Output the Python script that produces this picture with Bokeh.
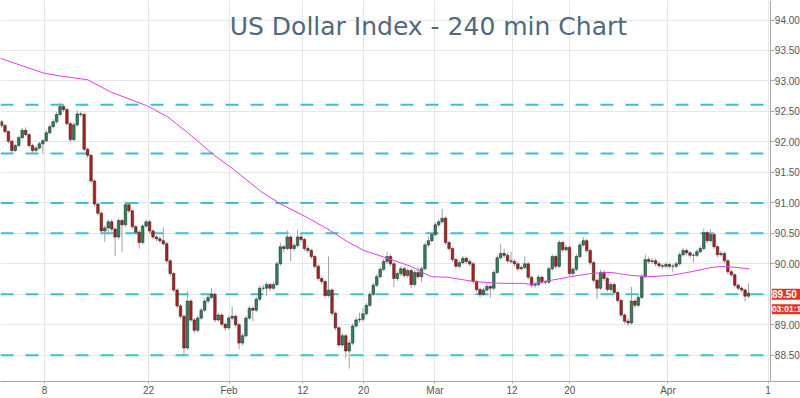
from bokeh.plotting import figure
from bokeh.models import (Label, FixedTicker, Range1d, ColumnDataSource,
                          NumeralTickFormatter, LinearAxis)
from bokeh.embed import file_html
from bokeh.resources import INLINE

# ---- data (240-min bars) ----
first_open = 92.33
closes = [
    92.27, 92.17, 92.01, 91.86, 91.94, 92.07, 92.19, 92.12, 91.94, 91.86,
    91.90, 91.97, 92.02, 92.15, 92.25, 92.33, 92.45, 92.58, 92.53, 92.30,
    92.04, 92.28, 92.46, 92.45, 91.88, 91.78, 91.36, 90.98, 90.83, 90.54,
    90.59, 90.69, 90.57, 90.44, 90.71, 90.64, 90.97, 90.87, 90.61, 90.52,
    90.35, 90.62, 90.69, 90.54, 90.44, 90.41, 90.38, 90.33, 90.05, 89.84,
    89.57, 89.31, 89.14, 88.62, 89.39, 89.08, 88.91, 89.11, 89.24, 89.39,
    89.45, 89.50, 89.08, 89.16, 89.01, 88.95, 89.11, 89.14, 89.00, 88.70,
    88.82, 89.11, 89.27, 89.24, 89.42, 89.60, 89.60, 89.66, 89.60, 89.66,
    90.00, 90.28, 90.25, 90.44, 90.25, 90.30, 90.44, 90.40, 90.25, 90.22,
    90.12, 89.96, 89.76, 89.71, 89.48, 89.57, 89.19, 88.95, 88.67, 88.82,
    88.57, 88.70, 88.98, 89.08, 89.09, 89.18, 89.32, 89.50, 89.65, 89.79,
    89.91, 90.04, 90.12, 90.00, 89.76, 89.84, 89.92, 89.81, 89.89, 89.66,
    89.86, 89.79, 89.92, 90.31, 90.38, 90.48, 90.64, 90.69, 90.75, 90.35,
    90.25, 90.07, 89.96, 90.02, 90.09, 90.04, 90.00, 89.71, 89.58, 89.50,
    89.57, 89.63, 89.60, 89.86, 90.10, 90.17, 90.14, 90.05, 90.04, 90.00,
    89.92, 89.94, 90.00, 89.78, 89.65, 89.66, 89.78, 89.71, 89.70, 89.92,
    90.12, 89.96, 90.35, 90.23, 90.27, 89.84, 89.91, 90.12, 90.31, 90.38,
    90.22, 90.02, 89.73, 89.60, 89.86, 89.76, 89.58, 89.66, 89.53, 89.40,
    89.16, 89.06, 89.03, 89.39, 89.32, 89.45, 89.79, 90.07, 90.04, 90.05,
    90.00, 89.97, 89.96, 89.99, 89.96, 89.96, 90.00, 90.15, 90.22, 90.18,
    90.14, 90.14, 90.20, 90.25, 90.51, 90.38, 90.48, 90.28, 90.15, 90.17,
    90.05, 89.87, 89.82, 89.65, 89.60, 89.57, 89.47, 89.52,
]
highs = [
    92.36, 92.30, 92.19, 92.03, 91.97, 92.10, 92.23, 92.24, 92.14, 91.97,
    91.93, 92.00, 92.05, 92.19, 92.29, 92.37, 92.49, 92.64, 92.62, 92.56,
    92.33, 92.32, 92.52, 92.50, 92.48, 91.91, 91.80, 91.39, 91.01, 90.86,
    90.63, 90.73, 90.73, 90.60, 90.75, 90.74, 91.02, 91.00, 90.89, 90.64,
    90.55, 90.66, 90.73, 90.72, 90.57, 90.47, 90.45, 90.60, 90.36, 90.08,
    89.87, 89.60, 89.34, 89.17, 89.55, 89.42, 89.11, 89.15, 89.28, 89.43,
    89.49, 89.60, 89.53, 89.20, 89.19, 89.04, 89.15, 89.30, 89.17, 89.03,
    88.86, 89.15, 89.31, 89.30, 89.46, 89.64, 89.66, 89.70, 89.69, 89.70,
    90.04, 90.35, 90.31, 90.55, 90.47, 90.34, 90.56, 90.49, 90.43, 90.30,
    90.25, 90.15, 89.99, 89.80, 89.74, 90.12, 89.60, 89.22, 88.98, 88.86,
    88.85, 88.75, 89.02, 89.12, 89.20, 89.28, 89.36, 89.54, 89.69, 89.83,
    89.95, 90.08, 90.20, 90.16, 90.03, 89.88, 89.96, 89.95, 89.93, 89.92,
    89.90, 89.95, 89.96, 90.35, 90.45, 90.52, 90.68, 90.73, 90.90, 90.78,
    90.38, 90.28, 90.10, 90.06, 90.13, 90.12, 90.07, 90.03, 89.74, 89.61,
    89.61, 89.67, 89.66, 89.90, 90.14, 90.33, 90.25, 90.18, 90.20, 90.08,
    90.03, 89.98, 90.12, 90.03, 89.81, 89.70, 89.82, 89.81, 89.74, 89.96,
    90.16, 90.15, 90.39, 90.38, 90.31, 90.30, 89.95, 90.16, 90.35, 90.44,
    90.41, 90.25, 90.05, 89.76, 89.90, 89.89, 89.79, 89.70, 89.69, 89.56,
    89.43, 89.19, 89.10, 89.62, 89.42, 89.49, 89.83, 90.15, 90.12, 90.10,
    90.09, 90.04, 90.00, 90.03, 90.02, 90.00, 90.04, 90.19, 90.26, 90.25,
    90.21, 90.18, 90.24, 90.29, 90.58, 90.54, 90.57, 90.51, 90.31, 90.21,
    90.20, 90.08, 89.90, 89.85, 89.68, 89.63, 89.60, 89.68,
]
lows = [
    92.23, 92.14, 91.98, 91.82, 91.83, 91.92, 92.05, 92.09, 91.91, 91.80,
    91.83, 91.87, 91.80, 91.99, 92.12, 92.22, 92.30, 92.42, 92.49, 92.27,
    92.00, 92.01, 92.25, 92.41, 91.85, 91.74, 91.32, 90.94, 90.79, 90.50,
    90.36, 90.48, 90.53, 90.13, 90.41, 90.19, 90.61, 90.83, 90.57, 90.48,
    90.25, 90.32, 90.59, 90.50, 90.40, 90.37, 90.34, 90.30, 90.01, 89.80,
    89.53, 89.27, 89.10, 88.51, 88.59, 89.04, 88.86, 88.88, 89.08, 89.21,
    89.35, 89.42, 89.04, 89.05, 88.97, 88.90, 88.92, 89.08, 88.96, 88.60,
    88.66, 88.79, 89.08, 89.06, 89.21, 89.39, 89.55, 89.47, 89.55, 89.57,
    89.63, 89.97, 90.19, 90.22, 90.04, 90.21, 90.27, 90.36, 90.21, 90.18,
    90.08, 89.92, 89.72, 89.67, 89.44, 89.45, 89.15, 88.91, 88.63, 88.64,
    88.45, 88.28, 88.67, 88.95, 89.03, 89.05, 89.15, 89.29, 89.47, 89.62,
    89.76, 89.88, 90.00, 89.96, 89.62, 89.72, 89.80, 89.77, 89.77, 89.60,
    89.63, 89.75, 89.70, 89.89, 90.27, 90.35, 90.45, 90.60, 90.66, 90.31,
    90.21, 90.03, 89.92, 89.93, 89.99, 90.00, 89.96, 89.67, 89.54, 89.45,
    89.47, 89.54, 89.44, 89.57, 89.83, 90.07, 90.10, 90.01, 90.00, 89.96,
    89.88, 89.89, 89.91, 89.74, 89.61, 89.61, 89.63, 89.67, 89.66, 89.67,
    89.89, 89.92, 89.93, 90.19, 90.20, 89.80, 89.81, 89.88, 90.09, 90.28,
    90.18, 89.98, 89.69, 89.42, 89.57, 89.72, 89.54, 89.54, 89.49, 89.36,
    89.12, 89.02, 88.98, 89.00, 89.28, 89.29, 89.42, 89.76, 90.00, 90.00,
    89.96, 89.93, 89.92, 89.93, 89.92, 89.86, 89.93, 89.97, 90.12, 90.14,
    90.10, 90.02, 90.11, 90.17, 90.22, 90.34, 90.35, 90.24, 90.11, 90.12,
    90.01, 89.83, 89.78, 89.61, 89.56, 89.53, 89.38, 89.44,
]
# moving average (bar index, value)
ma_x = [-0.3, 12.2, 17.2, 25.0, 31.7, 42.4, 48.3, 54.1, 61.6, 67.4, 75.3, 81.1,
        87.8, 94.8, 100.6, 105.2, 112.2, 118.9, 124.7, 129.7, 137.2, 145.1,
        151.7, 153.8, 159.6, 165.4, 171.2, 177.0, 182.8, 188.7, 194.5, 200.3,
        206.1, 209.9, 217.2]
ma_y = [93.37, 93.13, 93.08, 93.02, 92.82, 92.59, 92.41, 92.15, 91.79, 91.55,
        91.19, 90.98, 90.79, 90.57, 90.36, 90.22, 90.09, 89.96, 89.79, 89.78,
        89.71, 89.68, 89.68, 89.66, 89.73, 89.79, 89.84, 89.86, 89.81, 89.79,
        89.81, 89.87, 89.94, 89.96, 89.92]
levels = [92.61, 91.81, 91.00, 90.50, 89.50, 88.50]
x_tick_pos = [12.5, 42.7, 66.1, 87.5, 105.2, 125.9, 148.3, 165.1, 193.6, 222.7]
x_tick_labels = ["8", "22", "Feb", "12", "20", "Mar", "12", "20", "Apr", "1"]
y_ticks = [88.5, 89.0, 89.5, 90.0, 90.5, 91.0, 91.5, 92.0, 92.5, 93.0, 93.5, 94.0]
last_price = 89.50
last_price_text = "89.50"
countdown_text = "03:01:1"
title_text = "US Dollar Index - 240 min Chart"

# ---- build ----
n = len(closes)
opens = [first_open] + closes[:-1]
xs = list(range(n))
UP, DOWN = "#2b8560", "#b3201d"
colors = [UP if c >= o else DOWN for o, c in zip(opens, closes)]
src = ColumnDataSource(dict(x=xs, open=opens, close=closes, high=highs, low=lows, color=colors))

X_START = -0.3
X_END = 223.5      # where the price scale begins
X_VIEW = 232.1     # the frame also holds the price-scale column
p = figure(width=800, height=398, output_backend="svg", toolbar_location=None,
           x_range=Range1d(X_START, X_VIEW), y_range=Range1d(88.07, 94.32),
           y_axis_location=None, min_border_left=0, min_border_top=0,
           min_border_right=0, min_border_bottom=0)
p.outline_line_color = None
p.background_fill_color = "white"
p.border_fill_color = "white"

# grids (stop at the price scale)
p.xgrid.ticker = FixedTicker(ticks=x_tick_pos)
p.xgrid.grid_line_color = "#e6e6e6"
p.ygrid.ticker = FixedTicker(ticks=y_ticks)
p.ygrid.grid_line_color = "#e6e6e6"
if "cross_bounds" in p.ygrid[0].properties():
    p.ygrid[0].cross_bounds = (X_START, X_END)

# x axis
xa = p.xaxis[0]
xa.ticker = FixedTicker(ticks=x_tick_pos)
xa.major_label_overrides = {k: v for k, v in zip(x_tick_pos, x_tick_labels)}
xa.axis_line_color = "#a8a8a8"
xa.major_tick_line_color = "#a8a8a8"
xa.minor_tick_line_color = None
xa.major_tick_in = 0
xa.major_tick_out = 2
xa.major_label_standoff = 1
xa.major_label_text_font = "Liberation Sans"
xa.major_label_text_font_size = "10px"
xa.major_label_text_color = "#555555"

# price axis, pinned at X_END with its labels to the right of the line
ya = LinearAxis(ticker=FixedTicker(ticks=y_ticks), formatter=NumeralTickFormatter(format="0.00"))
ya.fixed_location = X_END
ya.axis_line_color = "#a8a8a8"
ya.major_tick_line_color = "#a8a8a8"
ya.minor_tick_line_color = None
ya.major_tick_out = 0
ya.major_tick_in = 4
ya.major_label_standoff = -29
ya.major_label_text_font = "Liberation Sans"
ya.major_label_text_font_size = "10px"
ya.major_label_text_color = "#555555"
p.add_layout(ya, "left")

# level lines
p.segment(x0=[X_START] * len(levels), y0=levels, x1=[X_END] * len(levels), y1=levels,
          line_color="#3dbfd0", line_width=2, line_dash="13 12")

# candles
p.segment(x0="x", y0="high", x1="x", y1="low", source=src, line_color="#a0a0a0", line_width=1)
p.vbar(x="x", width=0.75, top="open", bottom="close", source=src,
       fill_color="color", line_color="#1c1c1c", line_width=0.5)

# moving average
p.line(ma_x, ma_y, line_color="#e03fe6", line_width=1)

# title
p.add_layout(Label(x=124.0, y=93.90, text=title_text, text_align="center",
                   text_baseline="middle", text_font="DejaVu Sans",
                   text_font_size="25px", text_color="#51697e"))

# last price / countdown tags on the price scale
for txt, yv, fs in ((" " + last_price_text + "  ", last_price, "10px"),
                    (countdown_text, last_price - 0.245, "8.5px")):
    p.add_layout(Label(x=X_END, y=yv, text=txt, text_align="left",
                       text_baseline="middle", text_font="Liberation Sans",
                       text_font_size=fs, text_font_style="bold",
                       text_color="white", background_fill_color="#e3342b",
                       x_offset=1, level="overlay"))

open("out.html", "w").write(file_html(p, INLINE))
